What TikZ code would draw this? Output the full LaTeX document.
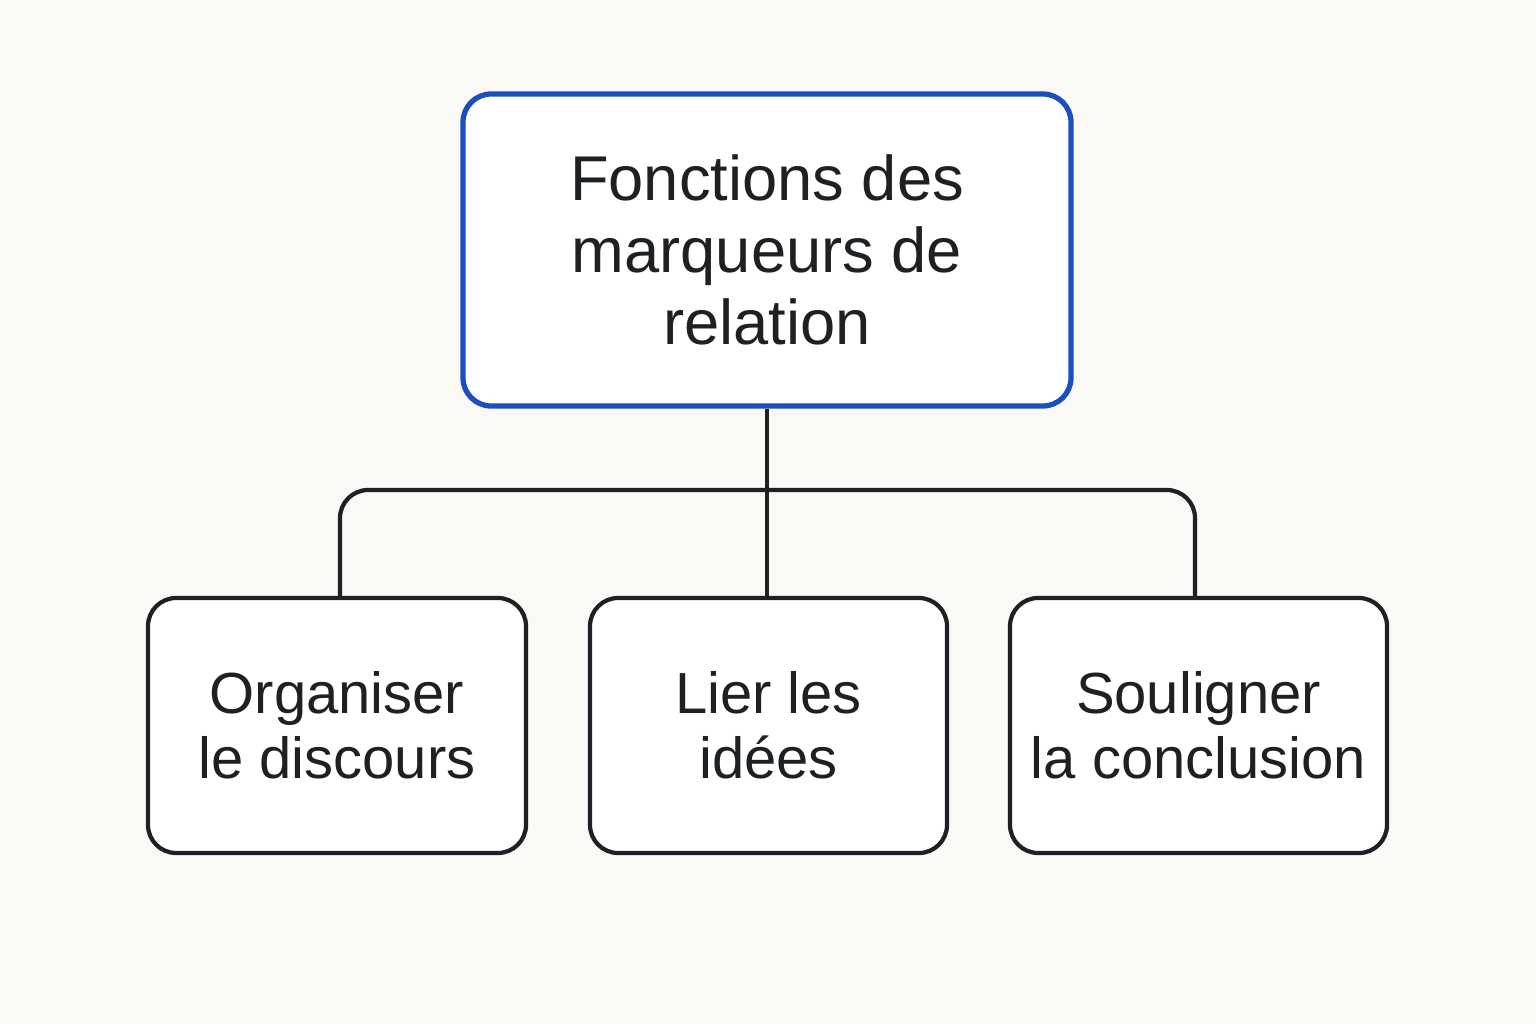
\documentclass[tikz,border=0pt]{standalone}
\usepackage{fontspec}
\setmainfont{Liberation Sans}
\usetikzlibrary{positioning}
\definecolor{bgcol}{HTML}{FBF9F5}
\definecolor{topblue}{HTML}{1A4FC0}
\definecolor{ink}{HTML}{1E2124}
\begin{document}
\begin{tikzpicture}[
    x=1cm, y=1cm,
    rootbox/.style={rectangle, draw=topblue, line width=1.5pt, fill=white, minimum width=6.08cm, minimum height=3.12cm, align=center, rounded corners=8pt, font=\fontsize{18}{20.5}\selectfont, text=ink},
    leafbox/.style={rectangle, draw=ink, line width=1.2pt, fill=white, minimum height=2.55cm, align=center, rounded corners=8pt, font=\fontsize{16.5}{18.5}\selectfont, text=ink},
    link/.style={draw=ink, line width=1.2pt, rounded corners=8pt}
]
\fill[bgcol] (0,0) rectangle (15.36,10.24);
\useasboundingbox (0,0) rectangle (15.36,10.24);

% Root
\node[rootbox] (root) at (7.67,7.74) {Fonctions des\\marqueurs de\\relation};

% Leaves
\node[leafbox, minimum width=3.78cm] (org) at (3.37,2.985) {Organiser\\le discours};
\node[leafbox, minimum width=3.57cm] (lier) at (7.685,2.985) {Lier les\\idées};
\node[leafbox, minimum width=3.77cm] (soul) at (11.985,2.985) {Souligner\\la conclusion};

% Connectors
\coordinate (bar) at (7.67,5.34);
\coordinate (orgtop) at (3.40,4.26);
\coordinate (soultop) at (11.95,4.26);
\draw[link] (root.south) -- (root.south |- lier.north);
\draw[link] (orgtop) |- (bar) -| (soultop);
\end{tikzpicture}
\end{document}
